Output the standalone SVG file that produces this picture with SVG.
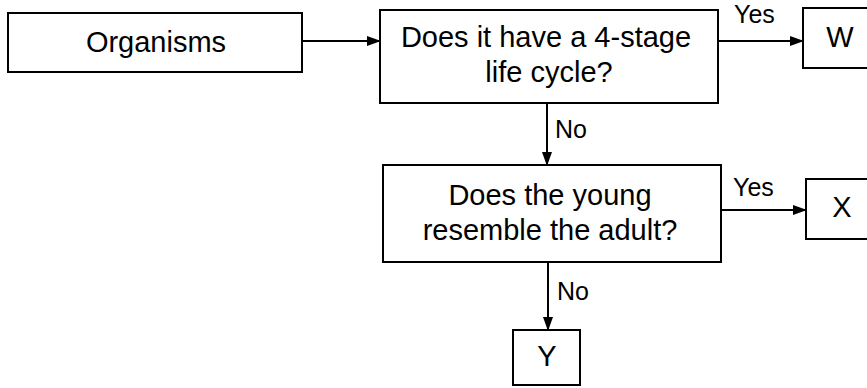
<svg xmlns="http://www.w3.org/2000/svg" width="867" height="388" viewBox="0 0 867 388">
<style>
.box{fill:#fff;stroke:#000;stroke-width:2}
.t{font-family:"Liberation Sans",Arial,sans-serif;font-size:29px;fill:#000;text-anchor:middle}
.lbl{font-family:"Liberation Sans",Arial,sans-serif;font-size:25px;fill:#000}
.c{fill:none;stroke:#000;stroke-width:2}
</style>
<defs>
<marker id="ah" markerWidth="14" markerHeight="12" refX="13" refY="6" orient="auto" markerUnits="userSpaceOnUse">
<path d="M0,1 L14,6 L0,11 Z" fill="#000"/>
</marker>
</defs>
<rect width="867" height="388" fill="#fff"/>
<g id="connectors">
<line class="c" x1="302" y1="41" x2="380" y2="41" marker-end="url(#ah)"/>
<line class="c" x1="718" y1="41" x2="803" y2="41" marker-end="url(#ah)"/>
<line class="c" x1="547" y1="103" x2="547" y2="165" marker-end="url(#ah)"/>
<line class="c" x1="721" y1="210" x2="806" y2="210" marker-end="url(#ah)"/>
<line class="c" x1="548" y1="262" x2="548" y2="330" marker-end="url(#ah)"/>
<text class="lbl" x="734" y="23">Yes</text>
<text class="lbl" x="555" y="138">No</text>
<text class="lbl" x="733" y="196">Yes</text>
<text class="lbl" x="557" y="300">No</text>
</g>
<g id="organisms">
<rect class="box" x="8" y="13" width="294" height="59"/>
<text class="t" x="156" y="52">Organisms</text>
</g>
<g id="q1">
<rect class="box" x="380" y="10" width="338" height="93"/>
<text class="t" x="546" y="47">Does it have a 4-stage</text>
<text class="t" x="549" y="82">life cycle?</text>
</g>
<g id="w">
<rect class="box" x="803" y="8" width="80" height="60"/>
<text class="t" x="840" y="47">W</text>
</g>
<g id="q2">
<rect class="box" x="383" y="165" width="338" height="97"/>
<text class="t" x="550" y="205">Does the young</text>
<text class="t" x="550" y="240">resemble the adult?</text>
</g>
<g id="x">
<rect class="box" x="806" y="179" width="80" height="60"/>
<text class="t" x="842" y="217">X</text>
</g>
<g id="y">
<rect class="box" x="513" y="330" width="67" height="55"/>
<text class="t" x="547" y="366">Y</text>
</g>
</svg>
